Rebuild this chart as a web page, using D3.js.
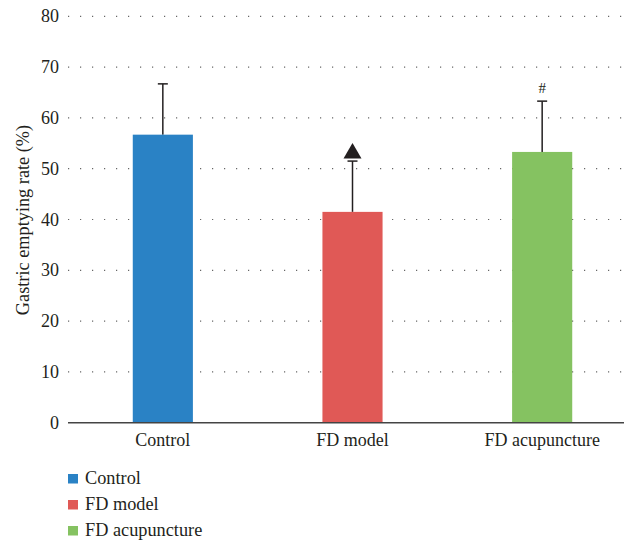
<!DOCTYPE html>
<html><head><meta charset="utf-8">
<script src="https://cdn.jsdelivr.net/npm/d3@7/dist/d3.min.js"></script>
<style>body{margin:0;background:#fff}svg{display:block}</style>
</head><body>
<svg id="c" width="624" height="540"></svg>
<script>
const categories = ["Control", "FD model", "FD acupuncture"];
const means = [56.7, 41.5, 53.3];
const errors = [10.0, 10.0, 10.0];
const markers = ["", "▲", "#"];
const colors = ["#2a82c5", "#e05956", "#85c261"];
const yTicks = [0, 10, 20, 30, 40, 50, 60, 70, 80];
const yTitle = "Gastric emptying rate (%)";

const font = "Liberation Serif";
const ink = "#231f20";
const svg = d3.select("#c");
const x = d3.scaleBand().domain(categories).range([68, 637]).paddingInner(0.683).paddingOuter(0.3415);
const y = d3.scaleLinear().domain([0, 80]).range([422.7, 16.3]);

// gridlines
svg.append("g").selectAll("line").data(yTicks.filter(d => d > 0)).join("line")
  .attr("x1", 68).attr("x2", 624)
  .attr("y1", d => y(d)).attr("y2", d => y(d))
  .attr("stroke", "#666").attr("stroke-width", 1.2)
  .attr("stroke-dasharray", "1.2,10.8");

// y tick labels
svg.append("g").selectAll("text").data(yTicks).join("text")
  .attr("x", 59).attr("y", d => y(d) + 6)
  .attr("text-anchor", "end").attr("font-family", font).attr("font-size", 18)
  .attr("fill", ink).text(d => d);

// error bars
const eb = svg.append("g");
eb.selectAll("line.v").data(categories).join("line").attr("class", "v")
  .attr("x1", d => x(d) + x.bandwidth() / 2).attr("x2", d => x(d) + x.bandwidth() / 2)
  .attr("y1", (d, i) => y(means[i])).attr("y2", (d, i) => y(means[i] + errors[i]))
  .attr("stroke", ink).attr("stroke-width", 1.5);
eb.selectAll("line.c").data(categories).join("line").attr("class", "c")
  .attr("x1", d => x(d) + x.bandwidth() / 2 - 5).attr("x2", d => x(d) + x.bandwidth() / 2 + 5)
  .attr("y1", (d, i) => y(means[i] + errors[i])).attr("y2", (d, i) => y(means[i] + errors[i]))
  .attr("stroke", ink).attr("stroke-width", 1.5);

// bars
svg.append("g").selectAll("rect").data(categories).join("rect")
  .attr("x", d => x(d)).attr("width", x.bandwidth())
  .attr("y", (d, i) => y(means[i])).attr("height", (d, i) => y(0) - y(means[i]))
  .attr("fill", (d, i) => colors[i]);

// markers
svg.append("g").selectAll("g").data(categories).join("g").each(function(d, i) {
  const cx = x(d) + x.bandwidth() / 2;
  const top = y(means[i] + errors[i]);
  if (markers[i] === "▲") {
    d3.select(this).append("path")
      .attr("d", `M${cx},${top - 18} L${cx + 9},${top - 2.5} L${cx - 9},${top - 2.5} Z`)
      .attr("fill", ink);
  } else if (markers[i]) {
    d3.select(this).append("text").attr("x", cx).attr("y", top - 8.5)
      .attr("text-anchor", "middle").attr("font-family", font).attr("font-size", 15)
      .attr("fill", ink).text(markers[i]);
  }
});

// x axis
const xAxis = svg.append("g").attr("transform", `translate(0,${y(0)})`)
  .call(d3.axisBottom(x).tickSize(0).tickPadding(10));
xAxis.attr("font-family", font).attr("font-size", 18);
xAxis.select(".domain").attr("stroke", "#444").attr("stroke-width", 1.6).attr("d", "M68,0H637");
xAxis.selectAll("text").attr("font-family", font).attr("font-size", 18).attr("fill", ink)
  .attr("dy", null).attr("y", 23.5);

// y title
svg.append("text").attr("transform", "translate(28.5,220) rotate(-90)")
  .attr("text-anchor", "middle").attr("font-family", font).attr("font-size", 18.3)
  .attr("fill", ink).text(yTitle);

// legend
const lg = svg.append("g").selectAll("g").data(categories).join("g")
  .attr("transform", (d, i) => `translate(68,${483.5 + i * 26})`);
lg.append("rect").attr("x", 0).attr("y", -9.5).attr("width", 10).attr("height", 9.5)
  .attr("fill", (d, i) => colors[i]);
lg.append("text").attr("x", 17).attr("y", 0)
  .attr("font-family", font).attr("font-size", 18.3).attr("fill", ink).text(d => d);
</script>
</body></html>
